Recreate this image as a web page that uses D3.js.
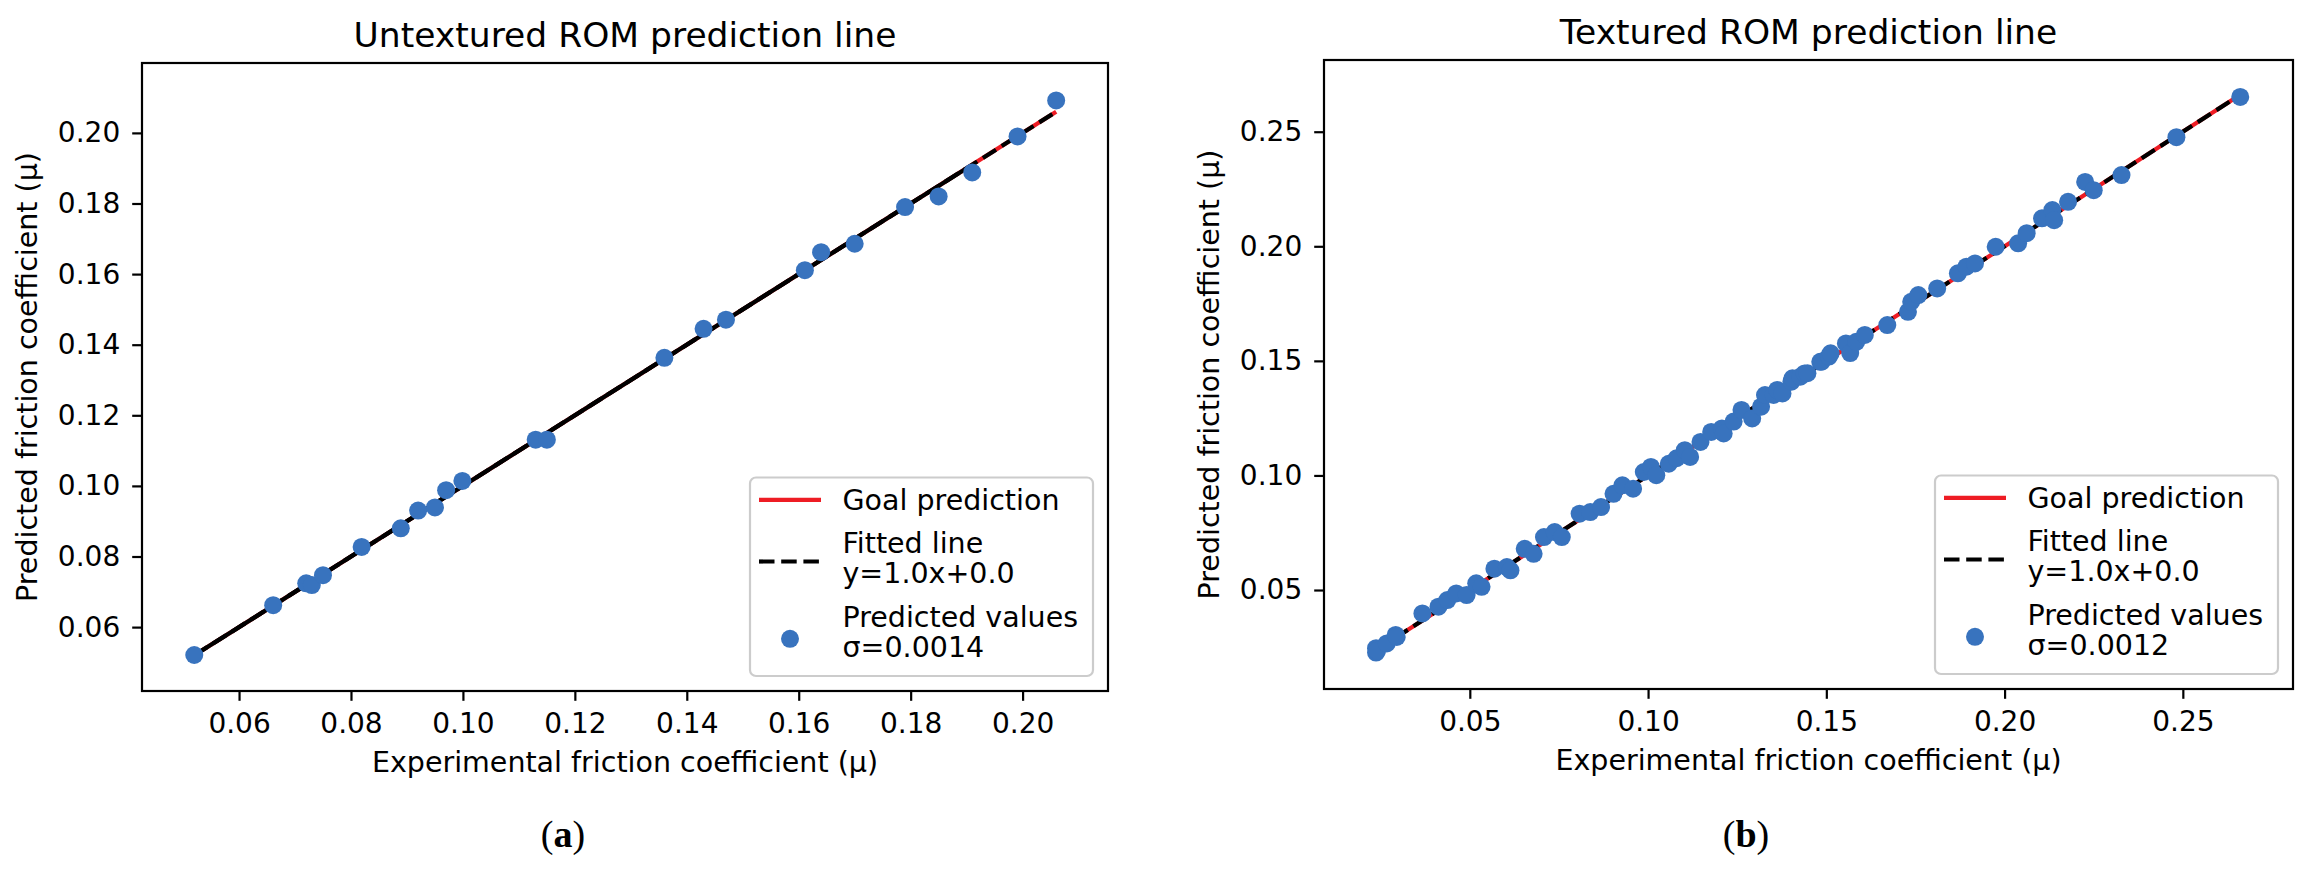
<!DOCTYPE html>
<html>
<head>
<meta charset="utf-8">
<script src="https://cdn.jsdelivr.net/npm/d3@7/dist/d3.min.js"></script>
<style>
  body { margin: 0; background: #fff; }
  svg { display: block; }
  text { font-family: "DejaVu Sans", sans-serif; fill: #000; }
</style>
</head>
<body>
<svg id="fig" width="2312" height="871"></svg>
<script>
// Untextured ROM: experimental vs predicted friction coefficient
const untexturedExp = [0.0520, 0.0661, 0.0720, 0.0730, 0.0750, 0.0819, 0.0889, 0.0920, 0.0950, 0.0970,
  0.0999, 0.1130, 0.1150, 0.1360, 0.1430, 0.1470, 0.1611, 0.1640, 0.1700, 0.1790,
  0.1850, 0.1910, 0.1991, 0.2060];
const untexturedPred = [0.0521, 0.0662, 0.0724, 0.0719, 0.0747, 0.0827, 0.0880, 0.0930, 0.0939, 0.0988,
  0.1014, 0.1131, 0.1131, 0.1363, 0.1445, 0.1471, 0.1611, 0.1662, 0.1686, 0.1790,
  0.1820, 0.1888, 0.1990, 0.2092];

// Textured ROM
const texturedExp = [0.0237, 0.0237, 0.0240, 0.0267, 0.0292, 0.0295, 0.0367, 0.0412, 0.0437, 0.0462,
  0.0491, 0.0518, 0.0533, 0.0569, 0.0604, 0.0614, 0.0654, 0.0679, 0.0708, 0.0738,
  0.0758, 0.0808, 0.0838, 0.0868, 0.0903, 0.0928, 0.0958, 0.0988, 0.1008, 0.1023,
  0.1058, 0.1080, 0.1103, 0.1118, 0.1147, 0.1177, 0.1207, 0.1212, 0.1240, 0.1262,
  0.1292, 0.1317, 0.1328, 0.1352, 0.1362, 0.1377, 0.1402, 0.1405, 0.1427, 0.1439,
  0.1447, 0.1483, 0.1487, 0.1507, 0.1512, 0.1555, 0.1567, 0.1584, 0.1608, 0.1671,
  0.1729, 0.1738, 0.1758, 0.1811, 0.1869, 0.1893, 0.1917, 0.1975, 0.2038, 0.2062,
  0.2105, 0.2134, 0.2139, 0.2178, 0.2226, 0.2250, 0.2328, 0.2482, 0.2661];
const texturedPred = [0.0246, 0.0227, 0.0235, 0.0267, 0.0304, 0.0295, 0.0398, 0.0427, 0.0456, 0.0485,
  0.0478, 0.0529, 0.0514, 0.0593, 0.0600, 0.0586, 0.0680, 0.0658, 0.0731, 0.0753,
  0.0731, 0.0833, 0.0840, 0.0862, 0.0920, 0.0957, 0.0942, 0.1015, 0.1037, 0.1001,
  0.1051, 0.1075, 0.1110, 0.1081, 0.1146, 0.1190, 0.1205, 0.1183, 0.1235, 0.1286,
  0.1249, 0.1300, 0.1351, 0.1351, 0.1373, 0.1358, 0.1409, 0.1424, 0.1431, 0.1445,
  0.1446, 0.1496, 0.1497, 0.1519, 0.1533, 0.1576, 0.1534, 0.1583, 0.1613, 0.1656,
  0.1714, 0.1758, 0.1787, 0.1816, 0.1882, 0.1911, 0.1925, 0.1998, 0.2013, 0.2057,
  0.2122, 0.2158, 0.2114, 0.2194, 0.2281, 0.2245, 0.2311, 0.2476, 0.2652];

const untexturedTicks = [0.06, 0.08, 0.10, 0.12, 0.14, 0.16, 0.18, 0.20];
const texturedTicks = [0.05, 0.10, 0.15, 0.20, 0.25];

const titles = ['Untextured ROM prediction line', 'Textured ROM prediction line'];
const sigmas = ['σ=0.0014', 'σ=0.0012'];
const captions = ['a', 'b'];
const fitSlope = 1.0, fitIntercept = 0.0;

const BLUE = '#3873be';
const RED = '#ee1c24';
const FS = 28.5;     // labels + legend
const TICK_FS = 28;

const svg = d3.select('#fig');

function panel(opt) {
  const x = d3.scaleLinear().domain(opt.xDomain).range([opt.left, opt.right]);
  const y = d3.scaleLinear().domain(opt.yDomain).range([opt.bottom, opt.top]);
  const g = svg.append('g');
  const pts = opt.xs.map((v, i) => ({ x: v, y: opt.ys[i] }));
  const [xmin, xmax] = d3.extent(opt.xs);

  // axes
  const xAxis = g.append('g')
    .attr('transform', `translate(0,${opt.bottom})`)
    .call(d3.axisBottom(x).tickValues(opt.ticks).tickFormat(d3.format('.2f'))
      .tickSize(9.8).tickPadding(12).tickSizeOuter(0));
  const yAxis = g.append('g')
    .attr('transform', `translate(${opt.left},0)`)
    .call(d3.axisLeft(y).tickValues(opt.ticks).tickFormat(d3.format('.2f'))
      .tickSize(9.8).tickPadding(12).tickSizeOuter(0));
  [xAxis, yAxis].forEach(a => {
    a.select('.domain').remove();
    a.selectAll('line').attr('stroke', '#000').attr('stroke-width', 2.2);
    a.selectAll('text').attr('font-size', TICK_FS).attr('font-family', '"DejaVu Sans", sans-serif').attr('fill', '#000');
  });

  // goal line (red) and fitted line (black dashed)
  const line = d3.line().x(d => x(d[0])).y(d => y(d[1]));
  g.append('path').datum([[xmin, xmin], [xmax, xmax]])
    .attr('d', line).attr('stroke', RED).attr('stroke-width', 4.2).attr('fill', 'none');
  g.append('path').datum([[xmin, fitSlope * xmin + fitIntercept], [xmax, fitSlope * xmax + fitIntercept]])
    .attr('d', line).attr('stroke', '#000').attr('stroke-width', 4.2)
    .attr('stroke-dasharray', '15.5,6.7').attr('fill', 'none');
  if (opt.solidTo) {
    // unsorted x in the source makes the dashes overlap into a solid line here
    g.append('path').datum([[xmin, xmin], [opt.solidTo, opt.solidTo]])
      .attr('d', line).attr('stroke', '#000').attr('stroke-width', 4.2).attr('fill', 'none');
  }

  g.selectAll('circle.pt').data(pts).join('circle')
    .attr('class', 'pt')
    .attr('cx', d => x(d.x)).attr('cy', d => y(d.y)).attr('r', 9)
    .attr('fill', BLUE);

  // frame
  g.append('rect')
    .attr('x', opt.left).attr('y', opt.top)
    .attr('width', opt.right - opt.left).attr('height', opt.bottom - opt.top)
    .attr('fill', 'none').attr('stroke', '#000').attr('stroke-width', 2.2);

  const cx = (opt.left + opt.right) / 2;
  g.append('text').attr('x', cx).attr('y', opt.top - 16.5)
    .attr('text-anchor', 'middle').attr('font-size', 34.5).text(opt.title);
  g.append('text').attr('x', cx).attr('y', opt.bottom + 80.5)
    .attr('text-anchor', 'middle').attr('font-size', FS).text('Experimental friction coefficient (μ)');
  g.append('text')
    .attr('transform', `translate(${opt.left - 105},${(opt.top + opt.bottom) / 2}) rotate(-90)`)
    .attr('text-anchor', 'middle').attr('font-size', FS).text('Predicted friction coefficient (μ)');

  // legend (lower right)
  const lw = 343, lh = 198.5;
  const lx = opt.right - 15 - lw, ly = opt.bottom - 15 - lh;
  const lg = g.append('g').attr('transform', `translate(${lx},${ly})`);
  lg.append('rect').attr('width', lw).attr('height', lh).attr('rx', 6).attr('ry', 6)
    .attr('fill', '#fff').attr('fill-opacity', 0.8).attr('stroke', '#cccccc').attr('stroke-width', 2.2);
  lg.append('line').attr('x1', 9).attr('x2', 71).attr('y1', 22.3).attr('y2', 22.3)
    .attr('stroke', RED).attr('stroke-width', 4.2);
  lg.append('line').attr('x1', 9).attr('x2', 71).attr('y1', 84).attr('y2', 84)
    .attr('stroke', '#000').attr('stroke-width', 4.2).attr('stroke-dasharray', '15.5,6.7');
  lg.append('circle').attr('cx', 40).attr('cy', 161.3).attr('r', 9).attr('fill', BLUE);
  const labels = [['Goal prediction', 32], ['Fitted line', 75.3], ['y=1.0x+0.0', 105.3],
    ['Predicted values', 149], [opt.sigma, 179.3]];
  labels.forEach(([t, yy]) => {
    lg.append('text').attr('x', 92.5).attr('y', yy).attr('font-size', FS).text(t);
  });

  // caption
  const cap = svg.append('text').attr('x', opt.capX).attr('y', 847)
    .attr('text-anchor', 'middle').attr('font-size', 38)
    .style('font-family', '"Liberation Serif", "DejaVu Serif", serif');
  cap.append('tspan').text('(');
  cap.append('tspan').attr('font-weight', 'bold').text(opt.caption);
  cap.append('tspan').text(')');
}

panel({
  xs: untexturedExp, ys: untexturedPred, ticks: untexturedTicks,
  xDomain: [0.04266, 0.21526], yDomain: [0.0419, 0.2198],
  left: 142, right: 1108, top: 63, bottom: 691,
  title: titles[0], sigma: sigmas[0], caption: captions[0], capX: 563, solidTo: 0.19
});
panel({
  xs: texturedExp, ys: texturedPred, ticks: texturedTicks,
  xDomain: [0.0091, 0.2809], yDomain: [0.0068, 0.2813],
  left: 1324, right: 2293, top: 60, bottom: 689,
  title: titles[1], sigma: sigmas[1], caption: captions[1], capX: 1746
});
</script>
</body>
</html>
